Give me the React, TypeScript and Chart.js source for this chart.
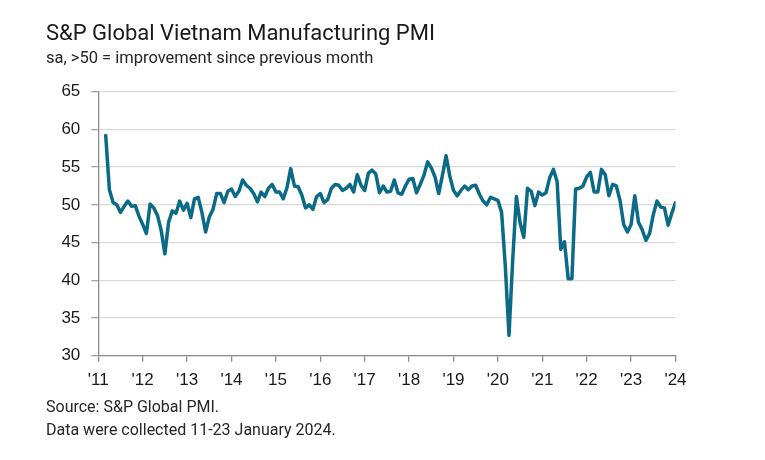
import React, { useEffect, useRef } from "react";
import { Chart, registerables } from "chart.js";

Chart.register(...registerables);

// S&P Global Vietnam Manufacturing PMI, monthly (sa). 2011 starts in March.
const startMonth2011 = 2;
const pmi2011 = [59.2, 52.0, 50.3, 50.0, 49.0, 49.8, 50.5, 49.8, 49.9, 48.5];
const pmi2012 = [47.4, 46.2, 50.1, 49.6, 48.6, 46.6, 43.5, 47.7, 49.2, 48.9, 50.5, 49.3];
const pmi2013 = [50.2, 48.3, 50.8, 51.0, 49.0, 46.4, 48.4, 49.4, 51.5, 51.5, 50.3, 51.8];
const pmi2014 = [52.1, 51.1, 51.8, 53.3, 52.6, 52.2, 51.5, 50.4, 51.7, 51.1, 52.2, 52.7];
const pmi2015 = [51.7, 51.7, 50.8, 52.3, 54.8, 52.5, 52.4, 51.3, 49.6, 50.0, 49.4, 51.1];
const pmi2016 = [51.5, 50.3, 50.7, 52.2, 52.7, 52.6, 51.9, 52.2, 52.7, 51.7, 54.0, 52.6];
const pmi2017 = [51.9, 54.2, 54.6, 54.1, 51.6, 52.5, 51.7, 51.8, 53.3, 51.6, 51.4, 52.5];
const pmi2018 = [53.4, 53.5, 51.6, 52.7, 53.9, 55.7, 54.9, 53.7, 51.5, 53.9, 56.5, 53.8];
const pmi2019 = [51.9, 51.2, 51.9, 52.5, 52.0, 52.5, 52.6, 51.4, 50.5, 50.0, 51.0, 50.8];
const pmi2020 = [50.6, 49.0, 41.9, 32.7, 42.7, 51.1, 47.6, 45.7, 52.2, 51.8, 49.9, 51.7];
const pmi2021 = [51.3, 51.6, 53.6, 54.7, 53.1, 44.1, 45.1, 40.2, 40.2, 52.1, 52.2, 52.5];
const pmi2022 = [53.7, 54.3, 51.7, 51.7, 54.7, 54.0, 51.2, 52.7, 52.5, 50.6, 47.4, 46.4];
const pmi2023 = [47.4, 51.2, 47.7, 46.7, 45.3, 46.2, 48.7, 50.5, 49.7, 49.6, 47.3, 48.9];
const pmi2024 = [50.3];

const seriesByYear: [number, number[]][] = [
  [2011, pmi2011], [2012, pmi2012], [2013, pmi2013], [2014, pmi2014],
  [2015, pmi2015], [2016, pmi2016], [2017, pmi2017], [2018, pmi2018],
  [2019, pmi2019], [2020, pmi2020], [2021, pmi2021], [2022, pmi2022],
  [2023, pmi2023], [2024, pmi2024],
];

const xTickYears = [2011, 2012, 2013, 2014, 2015, 2016, 2017, 2018, 2019, 2020, 2021, 2022, 2023, 2024];
const xTickLabels = ["'11", "'12", "'13", "'14", "'15", "'16", "'17", "'18", "'19", "'20", "'21", "'22", "'23", "'24"];
const yMin = 30;
const yMax = 65;
const yStep = 5;

const titleText = "S&P Global Vietnam Manufacturing PMI";
const subtitleText = "sa, >50 = improvement since previous month";
const sourceText = "Source: S&P Global PMI.";
const noteText = "Data were collected 11-23 January 2024.";

function buildPoints() {
  const pts: { x: number; y: number }[] = [];
  for (const [year, vals] of seriesByYear) {
    const offset = year === 2011 ? startMonth2011 : 0;
    vals.forEach((v, i) => pts.push({ x: year + (offset + i) / 12, y: v }));
  }
  return pts;
}

export default function App() {
  const ref = useRef<HTMLCanvasElement | null>(null);

  useEffect(() => {
    if (!ref.current) return;
    const chart = new Chart(ref.current, {
      type: "line",
      data: {
        datasets: [
          {
            data: buildPoints(),
            borderColor: "#0b6b87",
            borderWidth: 3.5,
            pointRadius: 0,
            tension: 0,
            fill: false,
            borderJoinStyle: "round",
            borderCapStyle: "round",
          },
        ],
      },
      options: {
        responsive: false,
        animation: false,
        layout: { padding: { top: 91.7, left: 0, right: 89.5, bottom: 60.3 } },
        plugins: { legend: { display: false }, tooltip: { enabled: false }, title: { display: false } },
        scales: {
          x: {
            type: "linear",
            min: xTickYears[0],
            max: xTickYears[xTickYears.length - 1],
            afterBuildTicks: (scale: any) => {
              scale.ticks = xTickYears.map((v) => ({ value: v }));
            },
            afterFit: (scale: any) => {
              scale.height = 44;
            },
            ticks: {
              autoSkip: false,
              maxRotation: 0,
              padding: 8,
              color: "#1a1a1a",
              font: { family: "'Liberation Sans', Arial, sans-serif", size: 17 },
              callback: (v: any) => {
                const i = xTickYears.indexOf(Number(v));
                return i >= 0 ? xTickLabels[i] : "";
              },
            },
            grid: {
              drawOnChartArea: false,
              drawTicks: true,
              tickLength: 6,
              tickColor: "#8c8c8c",
              lineWidth: 1.3,
            },
            border: { display: true, color: "#8c8c8c", width: 1.3 },
          },
          y: {
            min: yMin,
            max: yMax,
            afterFit: (scale: any) => {
              scale.width = 98.3;
            },
            ticks: {
              stepSize: yStep,
              padding: 11,
              color: "#1a1a1a",
              font: { family: "'Liberation Sans', Arial, sans-serif", size: 17 },
            },
            grid: {
              color: "#d9d9d9",
              lineWidth: 1.3,
              tickLength: 7,
              tickColor: "#a6a6a6",
            },
            border: { display: true, color: "#8c8c8c", width: 1.3 },
          },
        },
      },
    } as any);
    return () => chart.destroy();
  }, []);

  const font = "Roboto, 'Liberation Sans', Arial, sans-serif";
  return (
    <div style={{ position: "absolute", left: 0, top: 0, width: 765, height: 460, background: "#fff", overflow: "hidden" }}>
      <canvas ref={ref} width={765} height={460} style={{ position: "absolute", left: 0, top: 0, width: 765, height: 460 }} />
      <div style={{ position: "absolute", left: 46, top: 20, fontFamily: font, fontSize: 22, color: "#1a1a1a", whiteSpace: "nowrap", lineHeight: "26px" }}>
        {titleText}
      </div>
      <div style={{ position: "absolute", left: 46, top: 48, fontFamily: font, fontSize: 16.5, color: "#262626", whiteSpace: "nowrap", lineHeight: "20px" }}>
        {subtitleText}
      </div>
      <div style={{ position: "absolute", left: 46, top: 397, fontFamily: font, fontSize: 16, color: "#262626", whiteSpace: "nowrap", lineHeight: "20px" }}>
        {sourceText}
      </div>
      <div style={{ position: "absolute", left: 46, top: 420, fontFamily: font, fontSize: 16, color: "#262626", whiteSpace: "nowrap", lineHeight: "20px" }}>
        {noteText}
      </div>
    </div>
  );
}
